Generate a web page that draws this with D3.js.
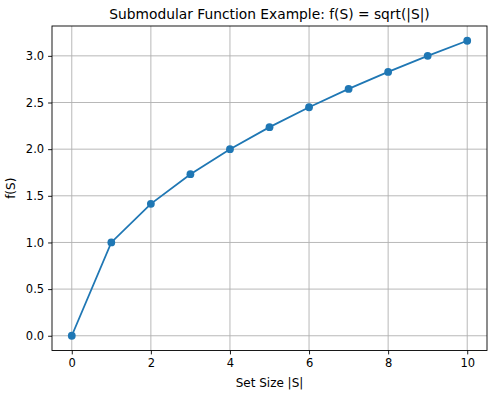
<!DOCTYPE html>
<html>
<head>
<meta charset="utf-8">
<script src="https://cdn.jsdelivr.net/npm/d3@7"></script>
<style>
  body { margin: 0; background: #fff; }
  text { font-family: "DejaVu Sans", sans-serif; fill: #000; }
</style>
</head>
<body>
<div id="chart"></div>
<script>
// data
var setSizes = [0, 1, 2, 3, 4, 5, 6, 7, 8, 9, 10];
var fValues = [0, 1.0, 1.414, 1.732, 2.0, 2.236, 2.449, 2.646, 2.828, 3.0, 3.162];
var xTicks = [0, 2, 4, 6, 8, 10];
var yTicks = [0, 0.5, 1.0, 1.5, 2.0, 2.5, 3.0];

var W = 490, H = 395;
var margin = {top: 26, right: 3, bottom: 44.5, left: 52},
    width = W - margin.left - margin.right,
    height = H - margin.top - margin.bottom;

var x = d3.scaleLinear().domain([-0.5, 10.5]).range([0, width]);
var y = d3.scaleLinear().domain([-0.158, 3.320]).range([height, 0]);

var svg = d3.select("#chart").append("svg")
    .attr("width", W)
    .attr("height", H)
    .append("g")
    .attr("transform", "translate(" + margin.left + "," + margin.top + ")");

// grid
svg.append("g").selectAll("line")
    .data(xTicks).enter().append("line")
    .attr("x1", function(d) { return x(d); })
    .attr("x2", function(d) { return x(d); })
    .attr("y1", 0).attr("y2", height)
    .style("stroke", "#b0b0b0").style("stroke-width", 0.9);
svg.append("g").selectAll("line")
    .data(yTicks).enter().append("line")
    .attr("y1", function(d) { return y(d); })
    .attr("y2", function(d) { return y(d); })
    .attr("x1", 0).attr("x2", width)
    .style("stroke", "#b0b0b0").style("stroke-width", 0.9);

// axes
var xAxis = svg.append("g")
    .attr("transform", "translate(0," + height + ")")
    .call(d3.axisBottom(x).tickValues(xTicks).tickSize(3.9).tickPadding(4).tickFormat(d3.format("d")));
var yAxis = svg.append("g")
    .call(d3.axisLeft(y).tickValues(yTicks).tickSize(3.9).tickPadding(4).tickFormat(d3.format(".1f")));
[xAxis, yAxis].forEach(function(a) {
    a.select(".domain").remove();
    a.selectAll("line").style("stroke", "#000").style("stroke-width", 0.9);
    a.selectAll("text").style("font-size", "11.5px").style("font-family", "DejaVu Sans");
});

// frame
svg.append("rect")
    .attr("width", width).attr("height", height)
    .style("fill", "none").style("stroke", "#000").style("stroke-width", 0.9);

// line + markers
var line = d3.line()
    .x(function(d, i) { return x(setSizes[i]); })
    .y(function(d) { return y(d); });
svg.append("path")
    .datum(fValues)
    .attr("d", line)
    .style("fill", "none")
    .style("stroke", "#1f77b4")
    .style("stroke-width", 1.8);
svg.selectAll(".dot")
    .data(fValues).enter().append("circle")
    .attr("class", "dot")
    .attr("cx", function(d, i) { return x(setSizes[i]); })
    .attr("cy", function(d) { return y(d); })
    .attr("r", 3.9)
    .style("fill", "#1f77b4");

// title
svg.append("text")
    .attr("x", width / 2)
    .attr("y", -7.5)
    .attr("text-anchor", "middle")
    .style("font-size", "13.8px")
    .text("Submodular Function Example: f(S) = sqrt(|S|)");

// axis labels
svg.append("text")
    .attr("x", width / 2)
    .attr("y", height + 36.3)
    .attr("text-anchor", "middle")
    .style("font-size", "12px")
    .text("Set Size |S|");
svg.append("text")
    .attr("transform", "rotate(-90)")
    .attr("x", -height / 2)
    .attr("y", -37)
    .attr("text-anchor", "middle")
    .style("font-size", "12px")
    .text("f(S)");
</script>
</body>
</html>
